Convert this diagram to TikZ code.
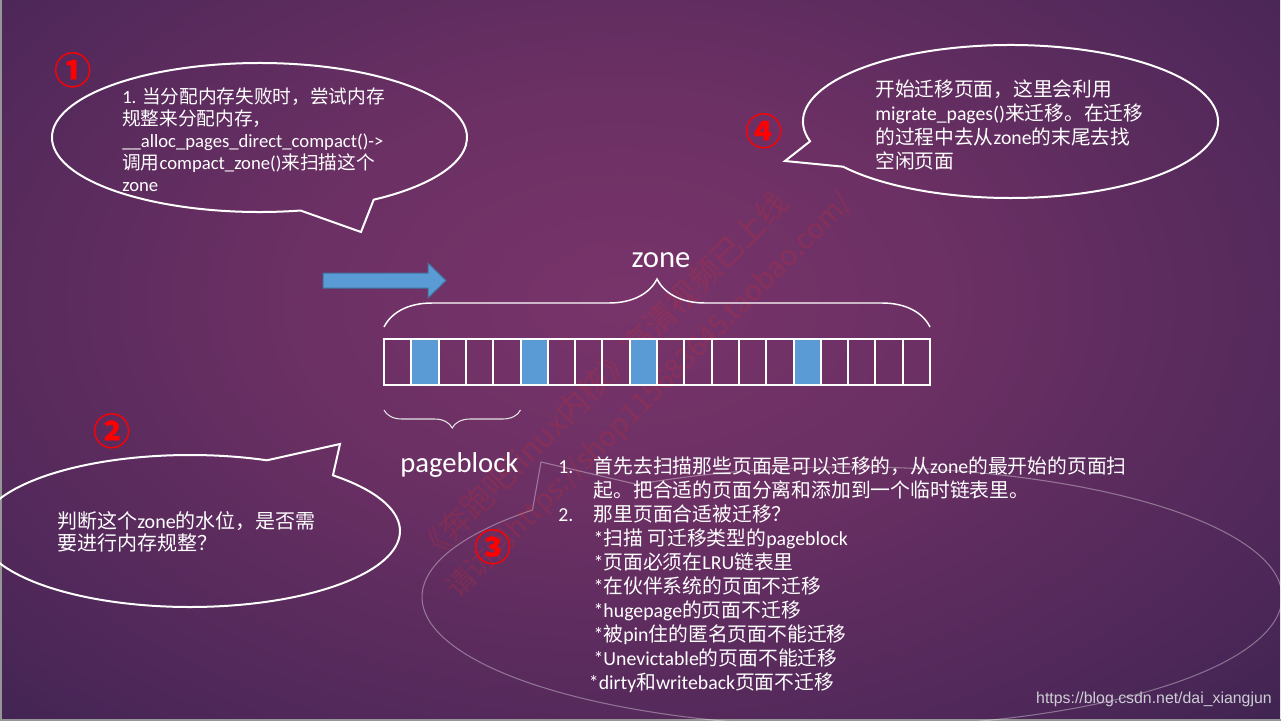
\documentclass[tikz,border=0pt]{standalone}
\usepackage{fontspec}
\setmainfont{Noto Sans CJK SC}
\newfontfamily\calibri{Carlito}
\newfontfamily\webfont{Liberation Sans}
\newcommand\eng[1]{{\calibri #1}}
\usetikzlibrary{decorations.pathreplacing}

\definecolor{bgcenter}{RGB}{120,52,106}
\definecolor{bginner}{RGB}{108,48,100}
\definecolor{bgmid}{RGB}{76,39,88}
\definecolor{bgedge}{RGB}{44,31,72}
\definecolor{cellblue}{RGB}{91,155,213}
\definecolor{arrowedge}{RGB}{65,113,156}
\definecolor{wmred}{RGB}{215,45,45}
\definecolor{framegray}{RGB}{150,150,150}
\definecolor{urlgray}{RGB}{205,205,212}

\pgfdeclareradialshading{slidebg}{\pgfpoint{0bp}{0bp}}{color(0bp)=(bgcenter); color(12bp)=(bginner); color(30bp)=(bgmid); color(44bp)=(bgedge); color(50bp)=(bgedge)}

\begin{document}
\begin{tikzpicture}[x=0.75pt, y=-0.75pt,
  bubble/.style={draw=white, line width=1.5pt},
  txt/.style={text=white, align=left, inner sep=0pt, anchor=north west},
  num/.style={text=red, inner sep=0pt, font=\fontsize{28}{28}\bfseries\selectfont},
  cell/.style={draw=white, line width=1.5pt, minimum width=20.475pt, minimum height=34.5pt, inner sep=0pt, outer sep=0pt},
  curly/.style={decorate, draw=white, line width=1.1pt, decoration={brace, amplitude=#1}},
  mark text/.style={text=wmred, text opacity=0.22, rotate=45, anchor=base west, inner sep=0pt}]
  \useasboundingbox (0,0) rectangle (1281,721);
  \clip (0,0) rectangle (1281,721);
  \shade[shading=slidebg] (-40,-120) rectangle (1280,720);
  \fill[framegray] (0,718.5) rectangle (1281,721);
  \fill[framegray] (0,0) rectangle (1.5,721);

  % speech bubbles
  \draw[bubble] (259.5,137.5) ++(78.6:207.5 and 74.5) arc[start angle=78.6, end angle=416.6, x radius=207.5, y radius=74.5] -- (361,232) -- cycle;
  \draw[bubble] (190,531) ++(-47.1:210 and 76) arc[start angle=-47.1, end angle=291.5, x radius=210, y radius=76] -- (340,444) -- cycle;
  \draw[bubble] (1010.5,121.5) ++(165:207.5 and 76.5) arc[start angle=165, end angle=503.8, x radius=207.5, y radius=76.5] -- (785,161) -- cycle;
  \draw[draw=white, draw opacity=0.35, line width=0.8pt] (852,597) ++(240:430 and 130) arc[start angle=240, end angle=582, x radius=430, y radius=130] -- (541,462) -- cycle;

  \node[mark text, font=\fontsize{23.5}{23.5}\selectfont] (mark1) at (430,566) {《奔跑吧linux内核》高清视频已上线};
  \node[mark text, font=\fontsize{21}{21}\selectfont] (mark2) at (458,600) {请访问https://shop115683645.taobao.com/};

  \node[num] (n1) at (73,70) {①};
  \node[num] (n2) at (112,431) {②};
  \node[num] (n3) at (493,547) {③};
  \node[num] (n4) at (764,131) {④};

  \node[txt, font=\fontsize{14}{16.5}\selectfont] (alloc) at (122,88) {\eng{1.} 当分配内存失败时，尝试内存\\规整来分配内存，\\\eng{\_\_alloc\_pages\_direct\_compact()->}\\调用\eng{compact\_zone()}来扫描这个\\\eng{zone}};
  \node[txt, font=\fontsize{15}{17}\selectfont] (water) at (57,511) {判断这个\eng{zone}的水位，是否需\\要进行内存规整？};
  \node[txt, font=\fontsize{14.8}{18}\selectfont] (migrate) at (875,80) {开始迁移页面，这里会利用\\\eng{migrate\_pages()}来迁移。在迁移\\的过程中去从\eng{zone}的末尾去找\\空闲页面};
  \node[txt, font=\fontsize{14.85}{18}\selectfont] (steps) at (558,457) {\makebox[26.5pt][l]{\eng{1.}}首先去扫描那些页面是可以迁移的，从\eng{zone}的最开始的页面扫\\\hspace*{26.5pt}起。把合适的页面分离和添加到一个临时链表里。\\\makebox[26.5pt][l]{\eng{2.}}那里页面合适被迁移？\\\hspace*{26.5pt}\eng{*}扫描 可迁移类型的\eng{pageblock}\\\hspace*{26.5pt}\eng{*}页面必须在\eng{LRU}链表里\\\hspace*{26.5pt}\eng{*}在伙伴系统的页面不迁移\\\hspace*{26.5pt}\eng{*hugepage}的页面不迁移\\\hspace*{26.5pt}\eng{*}被\eng{pin}住的匿名页面不能迁移\\\hspace*{26.5pt}\eng{*Unevictable}的页面不能迁移\\\hspace*{23pt}\eng{*dirty}和\eng{writeback}页面不迁移};

  \draw[draw=arrowedge, fill=cellblue, line width=0.75pt] (323,273) -- (428,273) -- (428,263) -- (446,280.5) -- (428,298) -- (428,288) -- (323,288) -- cycle;

  \foreach \i in {0,...,19}
    \node[cell] (pg\i) at ({397.65+27.3*\i},362) {};
  \foreach \i in {1,5,9,15}
    \node[cell, fill=cellblue] at (pg\i) {};

  \draw[curly=36pt] ([yshift=9pt]pg0.north west) -- ([yshift=9pt]pg19.north east);
  \draw[curly=13.5pt, draw=white!80!gray, line width=0.8pt] ([yshift=-18.75pt]pg4.south east) -- ([yshift=-18.75pt]pg0.south west);
  \node[text=white, inner sep=0pt, anchor=base, font=\calibri\fontsize{23}{23}\selectfont] (zonelbl) at (661,267) {zone};
  \node[text=white, inner sep=0pt, anchor=base west, font=\calibri\fontsize{21.5}{21.5}\selectfont] (blocklbl) at (400,472) {pageblock};

  \node[text=urlgray, inner sep=0pt, anchor=base east, font=\webfont\fontsize{11.9}{12}\selectfont] (url) at (1272,703) {https://blog.csdn.net/dai\_xiangjun};
\end{tikzpicture}
\end{document}
